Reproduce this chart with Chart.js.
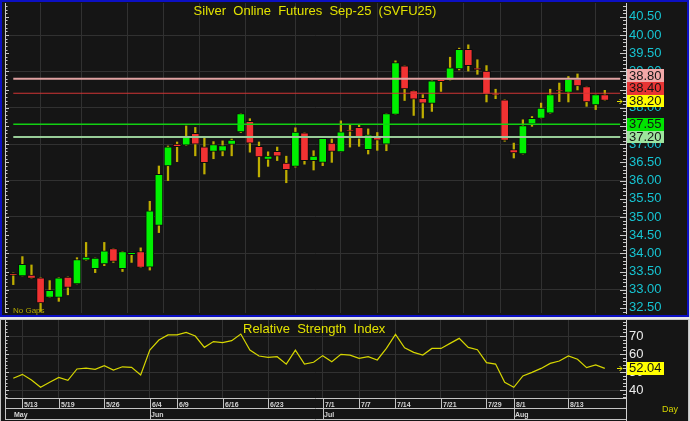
<!DOCTYPE html>
<html>
<head>
<meta charset="utf-8">
<script src="https://cdn.jsdelivr.net/npm/chart.js@4.4.1/dist/chart.umd.min.js"></script>
<style>
  html, body { margin: 0; padding: 0; background: #d8d8d8; }
  #wrap { position: relative; width: 690px; height: 421px; overflow: hidden; font-family: "Liberation Sans", Arial, sans-serif; }
  #top { position: absolute; left: 0; top: 0; width: 689px; height: 317px; box-sizing: border-box; background: #151515; border: 2px solid #0c10c4; }
  #gap { position: absolute; left: 0; top: 317px; width: 690px; height: 2px; background: #e8e8e8; }
  #bot { position: absolute; left: 0; top: 319px; width: 689px; height: 102px; box-sizing: border-box; background: #151515; border: 1px solid #c4c4c4; border-bottom: none; }
  canvas { position: absolute; left: 0; }
  .txt { position: absolute; white-space: pre; line-height: 1; }
</style>
</head>
<body>
<div id="wrap">
  <div id="top"></div>
  <div id="gap"></div>
  <div id="bot"></div>
  <canvas id="priceChart" width="690" height="317" style="top:0"></canvas>
  <canvas id="rsiChart" width="690" height="102" style="top:319px"></canvas>
  <div class="txt" style="left:0; width:630px; text-align:center; top:4px; font-size:13px; color:#e2e200;">Silver  Online  Futures  Sep-25  (SVFU25)</div>
  <div class="txt" style="left:243px; top:322px; font-size:13px; color:#e2e200;">Relative  Strength  Index</div>
  <div class="txt" style="left:13px; top:307px; font-size:8px; color:#b4a800;">No Gaps</div>
  <div class="txt" style="left:662px; top:405px; font-size:9px; color:#d4d400;">Day</div>
</div>
<script>
// daily candles, Silver Sep-25, 5/12 .. last session
const openP  = [33.45, 33.38, 33.40, 33.33, 32.79, 32.79, 33.35, 33.16, 33.81, 33.58,
                33.71, 34.13, 33.58, 33.96, 34.05, 33.62, 34.77, 36.40, 37.00, 36.97,
                37.30, 36.93, 36.80, 36.81, 36.99, 37.34, 37.63, 36.94, 36.58, 36.80,
                36.48, 36.39, 37.31, 36.55, 36.50, 37.03, 36.79, 37.39, 37.46, 36.85,
                37.19, 37.00, 37.82, 39.15, 38.47, 38.26, 38.12, 38.78, 38.76, 39.07,
                39.61, 39.09, 39.01, 38.38, 38.22, 36.85, 36.73, 37.56, 37.71, 37.85,
                38.49, 38.42, 38.79, 38.58, 38.08, 38.36];
const highP  = [33.46, 33.91, 33.68, 33.33, 33.25, 33.33, 33.35, 33.88, 34.30, 33.87,
                34.30, 34.13, 34.05, 34.03, 34.15, 35.43, 36.40, 36.95, 37.06, 37.50,
                37.46, 37.19, 37.07, 37.09, 37.14, 37.84, 37.70, 37.06, 36.79, 36.92,
                36.67, 37.45, 37.31, 36.82, 37.16, 37.14, 37.64, 37.52, 37.53, 37.42,
                37.32, 37.84, 39.29, 39.15, 38.47, 38.36, 38.74, 38.78, 39.39, 39.64,
                39.73, 39.32, 39.16, 38.51, 38.22, 37.03, 37.67, 37.76, 38.13, 38.51,
                38.68, 38.86, 38.93, 38.58, 38.36, 38.48];
const lowP   = [33.14, 33.38, 33.31, 32.40, 32.79, 32.68, 32.86, 33.16, 33.81, 33.47,
                33.66, 33.75, 33.50, 33.75, 33.61, 33.54, 34.57, 36.00, 36.52, 36.97,
                36.68, 36.18, 36.60, 36.68, 36.68, 37.32, 36.78, 36.10, 36.39, 36.55,
                35.94, 36.37, 36.45, 36.29, 36.41, 36.50, 36.79, 36.92, 36.94, 36.73,
                36.83, 36.82, 37.82, 38.20, 37.79, 37.72, 37.90, 38.45, 38.76, 39.04,
                39.01, 38.92, 38.16, 38.25, 37.08, 36.62, 36.73, 37.49, 37.71, 37.85,
                38.17, 38.16, 38.49, 38.04, 37.95, 38.20];
const closeP = [33.39, 33.70, 33.31, 32.64, 32.98, 33.33, 33.06, 33.83, 33.90, 33.87,
                34.07, 33.78, 34.05, 34.03, 33.61, 35.17, 36.17, 36.93, 36.93, 37.19,
                37.00, 36.49, 36.99, 36.96, 37.11, 37.84, 37.03, 36.65, 36.67, 36.67,
                36.30, 37.33, 36.55, 36.67, 37.16, 36.80, 37.34, 37.35, 37.16, 37.26,
                37.11, 37.84, 39.24, 38.52, 38.24, 38.13, 38.74, 38.72, 39.10, 39.61,
                39.16, 39.05, 38.37, 38.35, 37.10, 36.76, 37.51, 37.71, 37.99, 38.36,
                38.46, 38.79, 38.60, 38.16, 38.36, 38.20];
const rsi    = [46.5, 48.7, 45.6, 41.5, 44.3, 47.0, 45.4, 51.7, 52.2, 51.5,
                53.5, 51.1, 52.9, 52.6, 48.3, 62.2, 67.8, 70.6, 70.6, 72.0,
                70.0, 63.7, 66.9, 66.3, 67.4, 71.1, 62.2, 58.9, 58.1, 58.5,
                54.4, 62.2, 54.4, 55.4, 59.1, 55.7, 59.8, 59.4, 57.6, 58.5,
                56.7, 63.1, 70.9, 63.5, 60.9, 59.4, 63.1, 63.1, 65.9, 68.7,
                63.7, 62.4, 55.2, 54.4, 44.3, 41.5, 47.8, 49.8, 52.0, 54.8,
                56.1, 58.9, 57.1, 52.4, 53.9, 52.04];

// horizontal price levels
const levels = [38.80, 38.40, 37.55, 37.20];

// axis ticks
const priceTicks = [32.5, 33, 33.5, 34, 34.5, 35, 35.5, 36, 36.5, 37, 37.5, 38, 38.5, 39, 39.5, 40, 40.5];
const rsiTicks = [40, 50, 60, 70];
const dateLabels = ['5/13', '5/19', '5/26', '6/4', '6/9', '6/16', '6/23', '7/1', '7/7', '7/14', '7/21', '7/29', '8/1', '8/13'];
const dateIdx    = [1, 5, 10, 15, 18, 23, 28, 34, 38, 42, 47, 52, 55, 61];
const monthLabels = ['May', 'Jun', 'Jul', 'Aug'];
const monthIdx    = [0, 15, 34, 55];

Chart.defaults.font.family = '"Liberation Sans", Arial, sans-serif';
Chart.defaults.animation = false;

const idx = openP.map((_, i) => i);
const n = idx.length;
const X_MIN = -0.91, X_MAX = 67.33;

const levelLine = ['#e0a2a2', '#d03434', '#12d012', '#98cc98'];
const levelWidth = [2, 1.2, 1.5, 2];
const levelBox = ['#f2a8a8', '#e83434', '#00e400', '#9ee49e'];

function xAxis() {
  return {
    type: 'linear', min: X_MIN, max: X_MAX, offset: false,
    afterBuildTicks: s => { s.ticks = dateIdx.map(v => ({ value: v })); },
    afterFit: s => { s.height = 0; s.paddingLeft = 0; s.paddingRight = 0; },
    ticks: { display: false },
    grid: { color: '#313131', drawTicks: false },
    border: { display: false }
  };
}

// small tick marks on both vertical edges of the plot
function edgeTicks(chart, step, majorEvery) {
  const { ctx, chartArea: a, scales: { y } } = chart;
  ctx.strokeStyle = '#c8c8c8';
  ctx.lineWidth = 1;
  ctx.beginPath();
  ctx.moveTo(a.left + 0.5, a.top); ctx.lineTo(a.left + 0.5, a.bottom);
  const k0 = Math.ceil(y.min / step), k1 = Math.floor(y.max / step);
  for (let k = k0; k <= k1; k++) {
    const py = Math.round(y.getPixelForValue(k * step)) + 0.5;
    const major = k % majorEvery === 0;
    ctx.moveTo(a.right - (major ? 6 : 3), py); ctx.lineTo(a.right, py);
    ctx.moveTo(a.left, py); ctx.lineTo(a.left + (major ? 4 : 2.5), py);
  }
  ctx.stroke();
}

function arrow(ctx, xr, py, color) {
  ctx.strokeStyle = color;
  ctx.lineWidth = 1;
  ctx.beginPath();
  ctx.moveTo(xr - 9, py + 0.5); ctx.lineTo(xr - 4, py + 0.5);
  ctx.moveTo(xr - 6.5, py - 2); ctx.lineTo(xr - 4, py + 0.5); ctx.lineTo(xr - 6.5, py + 3);
  ctx.stroke();
}

function valueBox(ctx, x0, cy, bg, text) {
  ctx.fillStyle = bg;
  ctx.fillRect(x0, Math.round(cy - 6.5), 37, 13);
  ctx.fillStyle = '#141414';
  ctx.font = '13px "Liberation Sans", Arial, sans-serif';
  ctx.textAlign = 'left';
  ctx.textBaseline = 'middle';
  ctx.fillText(text, x0 + 2, Math.round(cy) + 0.5);
}

const priceDecor = {
  id: 'priceDecor',
  afterDraw(chart) {
    const { ctx, chartArea: a, scales: { y } } = chart;
    ctx.save();
    edgeTicks(chart, 0.1, 5);

    // level boxes on the price axis, pushed apart when they would overlap
    const last = closeP[n - 1];
    const items = levels.map((v, k) => ({ v, bg: levelBox[k] }));
    items.push({ v: last, bg: '#ffff00' });
    items.sort((p, q) => p.v - q.v);
    let prev = Infinity;
    items.forEach(it => {
      let cy = y.getPixelForValue(it.v);
      if (cy > prev - 12.5) cy = prev - 12.5;
      prev = cy;
      valueBox(ctx, a.right + 1, cy, it.bg, it.v.toFixed(2));
    });
    arrow(ctx, a.right, Math.round(y.getPixelForValue(last)), '#e6e600');
    ctx.restore();
  }
};

const rsiDecor = {
  id: 'rsiDecor',
  afterDraw(chart) {
    const { ctx, chartArea: a, scales: { x, y } } = chart;
    const H = chart.height;
    ctx.save();
    edgeTicks(chart, 2, 5);

    // axis line runs down past the date rows
    ctx.strokeStyle = '#d0d0d0';
    ctx.beginPath();
    ctx.moveTo(a.right + 0.5, a.bottom); ctx.lineTo(a.right + 0.5, H);
    ctx.stroke();

    // date rows
    const y0 = Math.round(a.bottom) + 0.5;
    ctx.strokeStyle = '#c4c4c4';
    ctx.beginPath();
    ctx.moveTo(a.left, y0); ctx.lineTo(a.right, y0);
    ctx.moveTo(a.left, y0 + 10); ctx.lineTo(a.right, y0 + 10);
    ctx.moveTo(a.left, y0 + 21); ctx.lineTo(a.right, y0 + 21);
    ctx.moveTo(a.left + 0.5, y0); ctx.lineTo(a.left + 0.5, y0 + 21);
    dateIdx.forEach(i => {
      const px = Math.round(x.getPixelForValue(i)) + 0.5;
      ctx.moveTo(px, y0); ctx.lineTo(px, y0 + 10);
    });
    monthIdx.forEach(i => {
      if (i === 0) return;
      const px = Math.round(x.getPixelForValue(i)) + 0.5;
      ctx.moveTo(px, y0 + 10); ctx.lineTo(px, y0 + 21);
    });
    ctx.stroke();

    ctx.font = 'bold 7px "Liberation Sans", Arial, sans-serif';
    ctx.textAlign = 'left';
    ctx.textBaseline = 'alphabetic';
    ctx.fillStyle = '#d4d4d4';
    dateLabels.forEach((t, k) => ctx.fillText(t, Math.round(x.getPixelForValue(dateIdx[k])) + 2, y0 + 8));
    monthLabels.forEach((t, k) => ctx.fillText(t, Math.round(x.getPixelForValue(monthIdx[k])) + 1, y0 + 18.5));

    const last = rsi[n - 1];
    const cy = y.getPixelForValue(last);
    valueBox(ctx, a.right + 1, cy, '#ffff00', last.toFixed(2));
    arrow(ctx, a.right, Math.round(cy), '#e6e600');
    ctx.restore();
  }
};

new Chart(document.getElementById('priceChart'), {
  type: 'bar',
  data: {
    datasets: [
      ...levels.map((v, k) => ({
        type: 'line',
        data: [{ x: 0, y: v }, { x: n + 0.7, y: v }],
        borderColor: levelLine[k],
        borderWidth: levelWidth[k],
        pointRadius: 0,
        order: 0
      })),
      {
        label: 'body',
        data: idx.map(i => ({ x: i, y: [openP[i], closeP[i]] })),
        backgroundColor: idx.map(i => closeP[i] >= openP[i] ? '#00f000' : '#f23232'),
        borderColor: '#0c0c0c',
        borderWidth: 1,
        borderSkipped: false,
        barThickness: 8,
        grouped: false,
        order: 1
      },
      {
        label: 'wick',
        data: idx.map(i => ({ x: i, y: [lowP[i], highP[i]] })),
        backgroundColor: '#bfae00',
        barThickness: 1.6,
        grouped: false,
        order: 2
      }
    ]
  },
  options: {
    responsive: false,
    layout: { padding: { left: 5, right: 0, top: 3, bottom: 4 } },
    plugins: { legend: { display: false }, tooltip: { enabled: false } },
    scales: {
      x: xAxis(),
      y: {
        position: 'right', min: 32.36, max: 40.88,
        afterBuildTicks: s => { s.ticks = priceTicks.map(v => ({ value: v })); },
        afterFit: s => { s.width = 64; s.paddingTop = 0; s.paddingBottom = 0; },
        ticks: { color: '#16c4d2', font: { size: 13 }, padding: 3, callback: v => Number(v).toFixed(2) },
        grid: {
          drawTicks: false,
          color: c => (c.tick && Math.abs(c.tick.value - Math.round(c.tick.value)) < 1e-6) ? '#313131' : 'rgba(0,0,0,0)'
        },
        border: { color: '#d0d0d0', width: 1 }
      }
    }
  },
  plugins: [priceDecor]
});

new Chart(document.getElementById('rsiChart'), {
  type: 'line',
  data: {
    datasets: [{
      label: 'RSI',
      data: idx.map(i => ({ x: i, y: rsi[i] })),
      borderColor: '#d6d600',
      borderWidth: 1.2,
      pointRadius: 0,
      tension: 0
    }]
  },
  options: {
    responsive: false,
    layout: { padding: { left: 5, right: 0, top: 1, bottom: 23 } },
    plugins: { legend: { display: false }, tooltip: { enabled: false } },
    scales: {
      x: xAxis(),
      y: {
        position: 'right', min: 35.56, max: 78.9,
        afterBuildTicks: s => { s.ticks = rsiTicks.map(v => ({ value: v })); },
        afterFit: s => { s.width = 64; s.paddingTop = 0; s.paddingBottom = 0; },
        ticks: { color: '#ececec', font: { size: 13 }, padding: 3 },
        grid: { drawTicks: false, color: '#313131' },
        border: { color: '#d0d0d0', width: 1 }
      }
    }
  },
  plugins: [rsiDecor]
});
</script>
</body>
</html>
